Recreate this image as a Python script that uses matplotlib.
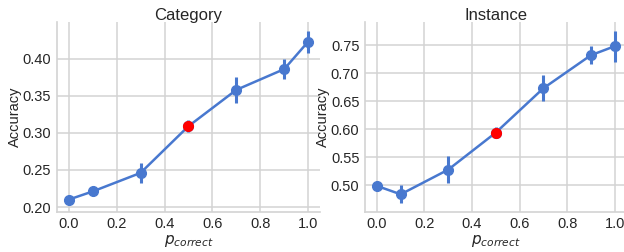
import numpy as np
import matplotlib.pyplot as plt
import seaborn as sns

sns.set_style('whitegrid')
plt.rcParams['font.family'] = ['Liberation Sans', 'DejaVu Sans']

# Dati
p_correct = [0.0, 0.1, 0.3, 0.5, 0.7, 0.9, 1.0]

acc_category = [0.210, 0.221, 0.246, 0.309, 0.358, 0.386, 0.423]
err_category = [0.005, 0.004, 0.013, 0.008, 0.018, 0.013, 0.015]

acc_instance = [0.499, 0.484, 0.528, 0.594, 0.673, 0.732, 0.748]
err_instance = [0.006, 0.016, 0.024, 0.010, 0.023, 0.016, 0.028]

titles = ['Category', 'Instance']
highlight = 0.5

blue = '#4878CF'
text_col = '#262626'
grid_col = '#d3d3d3'

fig = plt.figure(figsize=(6.24, 2.52), dpi=100)
ax1 = fig.add_axes([0.091, 0.159, 0.422, 0.754])
ax2 = fig.add_axes([0.585, 0.159, 0.419, 0.754])

for ax, acc, err, title in zip([ax1, ax2], [acc_category, acc_instance],
                               [err_category, err_instance], titles):
    ax.errorbar(p_correct, acc, yerr=err, color=blue, lw=1.8, elinewidth=2.2,
                marker='o', ms=7, capsize=0, zorder=3)
    i = p_correct.index(highlight)
    ax.plot(p_correct[i], acc[i], 'o', color='red', ms=7, zorder=4)
    ax.set_title(title, fontsize=12, color=text_col, pad=1.5)
    ax.set_xlabel('$p_{correct}$', fontsize=11, color=text_col, labelpad=1)
    ax.set_ylabel('Accuracy', fontsize=10.5, color=text_col, labelpad=0.5)
    ax.set_xticks([0.0, 0.2, 0.4, 0.6, 0.8, 1.0])
    ax.tick_params(labelsize=10.5, colors=text_col, length=0, pad=4)
    ax.grid(True, color=grid_col, lw=1.1)
    for s in ['top', 'right']:
        ax.spines[s].set_visible(False)
    for s in ['left', 'bottom']:
        ax.spines[s].set_color(grid_col)
        ax.spines[s].set_linewidth(1.2)

ax1.set_yticks([0.20, 0.25, 0.30, 0.35, 0.40])
ax2.set_yticks([0.50, 0.55, 0.60, 0.65, 0.70, 0.75])

fig.savefig('out.png', dpi=100)
